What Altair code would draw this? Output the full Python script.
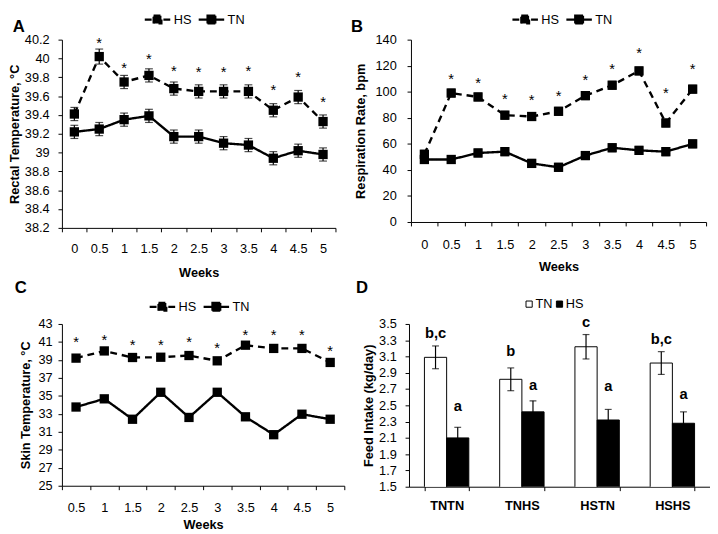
import altair as alt
import pandas as pd

FONT = "Liberation Sans"

# ---------------- data ----------------
weeks_ab = ["0", "0.5", "1", "1.5", "2", "2.5", "3", "3.5", "4", "4.5", "5"]
weeks_c = ["0.5", "1", "1.5", "2", "2.5", "3", "3.5", "4", "4.5", "5"]

# Panel A: rectal temperature
rectal_hs = [39.41, 40.02, 39.75, 39.82, 39.68, 39.65, 39.65, 39.65, 39.45, 39.59, 39.33]
rectal_tn = [39.22, 39.25, 39.35, 39.39, 39.17, 39.17, 39.10, 39.08, 38.94, 39.02, 38.98]
rectal_hs_se = [0.07, 0.08, 0.07, 0.07, 0.07, 0.07, 0.07, 0.07, 0.07, 0.07, 0.07]
rectal_tn_se = [0.07, 0.07, 0.07, 0.07, 0.07, 0.07, 0.07, 0.07, 0.07, 0.07, 0.07]
rectal_star_y = [40.21, 39.94, 40.03, 39.91, 39.90, 39.90, 39.91, 39.71, 39.84, 39.58]
rectal_ticks = [38.2, 38.4, 38.6, 38.8, 39.0, 39.2, 39.4, 39.6, 39.8, 40.0, 40.2]

# Panel B: respiration rate
resp_hs = [52, 99, 96, 82, 81, 85, 97, 105, 116, 76, 102]
resp_tn = [48, 48, 53, 54, 45, 42, 51, 57, 55, 54, 60]
resp_hs_se = [3, 3, 3, 3, 3, 3, 3, 3, 3, 3, 3]
resp_tn_se = [3, 3, 3, 3, 3, 3, 3, 3, 3, 3, 3]
resp_star_y = [113, 110, 97.5, 96.7, 100, 112, 120.4, 132.4, 102.3, 120.1]
resp_ticks = [0, 20, 40, 60, 80, 100, 120, 140]

# Panel C: skin temperature
skin_hs = [39.2, 40.0, 39.27, 39.3, 39.49, 38.9, 40.64, 40.28, 40.28, 38.72]
skin_tn = [33.76, 34.67, 32.4, 35.4, 32.6, 35.4, 32.67, 30.68, 32.96, 32.4]
skin_star_y = [41.37, 41.66, 41.08, 41.08, 41.44, 40.75, 42.2, 42.2, 42.2, 40.46]
skin_ticks = [25, 27, 29, 31, 33, 35, 37, 39, 41, 43]

# Panel D: feed intake
groups = ["TNTN", "TNHS", "HSTN", "HSHS"]
fi_tn = [3.09, 2.82, 3.22, 3.02]
fi_hs = [2.10, 2.42, 2.32, 2.28]
fi_tn_se = [0.14, 0.14, 0.15, 0.14]
fi_hs_se = [0.13, 0.135, 0.13, 0.14]
fi_tn_letters = ["b,c", "b", "c", "b,c"]
fi_tn_letter_y = [3.39, 3.17, 3.52, 3.32]
fi_hs_letters = ["a", "a", "a", "a"]
fi_hs_letter_y = [2.49, 2.75, 2.74, 2.64]
fi_ticks = [1.5, 1.7, 1.9, 2.1, 2.3, 2.5, 2.7, 2.9, 3.1, 3.3, 3.5]

panel_letters = ["A", "B", "C", "D"]
series_names = ["HS", "TN"]

# legend glyph: line segments on both sides of a filled square
LINE_SYMBOL = ("M-2.6,0L-0.8,0M2.6,0L0.8,0"
               "M-0.8,-0.8L0.8,-0.8L0.8,0.8L-0.8,0.8Z")

AX = dict(domainColor="black", tickColor="black", labelColor="black",
          titleColor="black", grid=False, labelFont=FONT, titleFont=FONT,
          labelFontSize=13, titleFontSize=13, titleFontWeight="bold",
          domainWidth=1, tickWidth=1, tickSize=4)


def letter_layer(letter, lx, ly):
    return alt.Chart(pd.DataFrame({"t": [letter]})).mark_text(
        font=FONT, fontSize=17, fontWeight="bold", align="center",
        baseline="middle", color="black"
    ).encode(text="t:N", x=alt.value(lx), y=alt.value(ly))


def line_panel(weeks, hs, tn, hs_se, tn_se, star_y, yticks, ytitle, w, h,
               legend_xy, letter, letter_xy, ylab_pad, ytitle_pad,
               xlab_pad, xtitle_pad):
    n = len(weeks)
    df = pd.DataFrame({
        "week": weeks + weeks,
        "value": hs + tn,
        "series": [series_names[0]] * n + [series_names[1]] * n,
    })
    if hs_se is not None:
        se = hs_se + tn_se
        df["lo"] = [v - s for v, s in zip(df["value"], se)]
        df["hi"] = [v + s for v, s in zip(df["value"], se)]

    xaxis = alt.Axis(title="Weeks", labelAngle=0, tickBand="extent",
                     labelPadding=xlab_pad, titlePadding=xtitle_pad, **AX)
    yaxis = alt.Axis(title=ytitle, values=yticks, format="~r",
                     labelPadding=ylab_pad, titlePadding=ytitle_pad, **AX)
    xs = alt.Scale(type="band", paddingInner=0, paddingOuter=0)
    ys = alt.Scale(domain=[yticks[0], yticks[-1]], zero=False, nice=False)

    def X():
        return alt.X("week:O", sort=weeks, bandPosition=0.5, scale=xs, axis=xaxis)

    def Y(field):
        return alt.Y(field, scale=ys, axis=yaxis, title=ytitle)

    base = alt.Chart(df)
    line = base.mark_line(color="black", strokeWidth=2.4).encode(
        x=X(), y=Y("value:Q"),
        strokeDash=alt.StrokeDash(
            "series:N",
            scale=alt.Scale(domain=series_names, range=[[7, 5], [1, 0]]),
            legend=alt.Legend(
                title=None, orient="none", legendX=legend_xy[0],
                legendY=legend_xy[1], direction="horizontal",
                symbolType=LINE_SYMBOL, symbolSize=100,
                symbolStrokeWidth=2.2, symbolFillColor="black",
                symbolStrokeColor="black", labelFont=FONT,
                labelFontSize=13, labelColor="black", labelOffset=10,
                columnPadding=2, padding=0, symbolOffset=0,
            ),
        ),
    )
    layers = [line]
    if hs_se is not None:
        rule = base.mark_rule(color="black", strokeWidth=1.2).encode(
            x=X(), y=Y("lo:Q"), y2="hi:Q")
        cap_hi = base.mark_tick(color="black", thickness=1.2, size=8).encode(
            x=X(), y=Y("hi:Q"))
        cap_lo = base.mark_tick(color="black", thickness=1.2, size=8).encode(
            x=X(), y=Y("lo:Q"))
        layers += [rule, cap_hi, cap_lo]
    pts = base.mark_point(shape="square", filled=True, color="black",
                          size=90, opacity=1).encode(x=X(), y=Y("value:Q"))
    sdf = pd.DataFrame({"week": weeks[-len(star_y):], "sy": star_y,
                        "t": ["*"] * len(star_y)})
    stars = alt.Chart(sdf).mark_text(font=FONT, fontSize=15, color="black",
                                     baseline="middle", dy=4).encode(
        x=X(), y=Y("sy:Q"), text="t:N")
    layers += [pts, stars, letter_layer(letter, *letter_xy)]
    return alt.layer(*layers).properties(width=w, height=h)


panel_a = line_panel(weeks_ab, rectal_hs, rectal_tn, rectal_hs_se, rectal_tn_se,
                     rectal_star_y, rectal_ticks, "Rectal Temperature, °C",
                     279, 192, (91, -27), panel_letters[0], (-44, -13),
                     9, 3, 11, 12)
panel_b = line_panel(weeks_ab, resp_hs, resp_tn, resp_hs_se, resp_tn_se,
                     resp_star_y, resp_ticks, "Respiration Rate, bpm",
                     301, 186, (110, -27), panel_letters[1], (-55, -13),
                     11, 8, 13, 9)
panel_c = line_panel(weeks_c, skin_hs, skin_tn, None, None,
                     skin_star_y, skin_ticks, "Skin Temperature, °C",
                     288, 165, (96, -24), panel_letters[2], (-42, -37),
                     6, 6, 12, 5)

# Panel D
dfd = pd.DataFrame({
    "group": groups + groups,
    "series": ["TN"] * 4 + ["HS"] * 4,
    "value": fi_tn + fi_hs,
    "lo": [v - s for v, s in zip(fi_tn + fi_hs, fi_tn_se + fi_hs_se)],
    "hi": [v + s for v, s in zip(fi_tn + fi_hs, fi_tn_se + fi_hs_se)],
    "lab": fi_tn_letters + fi_hs_letters,
    "laby": fi_tn_letter_y + fi_hs_letter_y,
})
xd_axis = alt.Axis(title=None, labelAngle=0, tickBand="extent",
                   labelFontWeight="bold", labelPadding=9, **AX)
yd_axis = alt.Axis(title="Feed Intake (kg/day)", values=fi_ticks, format="~r",
                   labelPadding=9, titlePadding=3, **AX)
xd_scale = alt.Scale(paddingInner=0.41, paddingOuter=0.205)
yd_scale = alt.Scale(domain=[1.5, 3.5], zero=False, nice=False)


def XD():
    return alt.X("group:N", sort=groups, scale=xd_scale, axis=xd_axis)


def XO():
    return alt.XOffset("series:N", sort=["TN", "HS"],
                       scale=alt.Scale(domain=["TN", "HS"], paddingInner=0,
                                       paddingOuter=0))


def YD(field):
    return alt.Y(field, scale=yd_scale, axis=yd_axis, title="Feed Intake (kg/day)")


based = alt.Chart(dfd)
bars = based.mark_bar(stroke="black", strokeWidth=1, clip=True).encode(
    x=XD(), xOffset=XO(), y=YD("value:Q"),
    fill=alt.Fill("series:N", sort=["TN", "HS"],
                  scale=alt.Scale(domain=["TN", "HS"], range=["white", "black"]),
                  legend=alt.Legend(title=None, orient="none", legendX=116,
                                    legendY=-27, direction="horizontal",
                                    symbolType="square", symbolSize=40,
                                    symbolStrokeColor="black",
                                    symbolStrokeWidth=1, labelFont=FONT,
                                    labelFontSize=13, labelColor="black",
                                    labelOffset=0, columnPadding=0,
                                    padding=0, symbolOffset=0)),
)
d_rule = based.mark_rule(color="black", strokeWidth=1.2).encode(
    x=XD(), xOffset=XO(), y=YD("lo:Q"), y2="hi:Q")
d_cap = based.mark_tick(color="black", thickness=1.2, size=7).encode(
    x=XD(), xOffset=XO(), y=YD("hi:Q"))
d_cap_lo = based.mark_tick(color="black", thickness=1.2, size=7).encode(
    x=XD(), xOffset=XO(), y=YD("lo:Q"))
d_text = based.mark_text(font=FONT, fontSize=15, fontWeight="bold",
                         color="black", baseline="middle").encode(
    x=XD(), xOffset=XO(), y=YD("laby:Q"), text="lab:N")
panel_d = alt.layer(bars, d_rule, d_cap, d_cap_lo, d_text,
                    letter_layer(panel_letters[3], -48, -37)).properties(
    width=307, height=166)

IND = dict(strokeDash="independent", fill="independent")
row1 = alt.hconcat(panel_a, panel_b, spacing=14).resolve_scale(**IND).resolve_legend(**IND)
row2 = alt.hconcat(panel_c, panel_d, spacing=10).resolve_scale(**IND).resolve_legend(**IND)
chart = alt.vconcat(row1, row2, spacing=-1).resolve_scale(**IND).resolve_legend(**IND).properties(
    padding=0
).configure(font=FONT).configure_view(stroke=None)

chart.save("out.html", embed_options={"renderer": "svg", "actions": False})
